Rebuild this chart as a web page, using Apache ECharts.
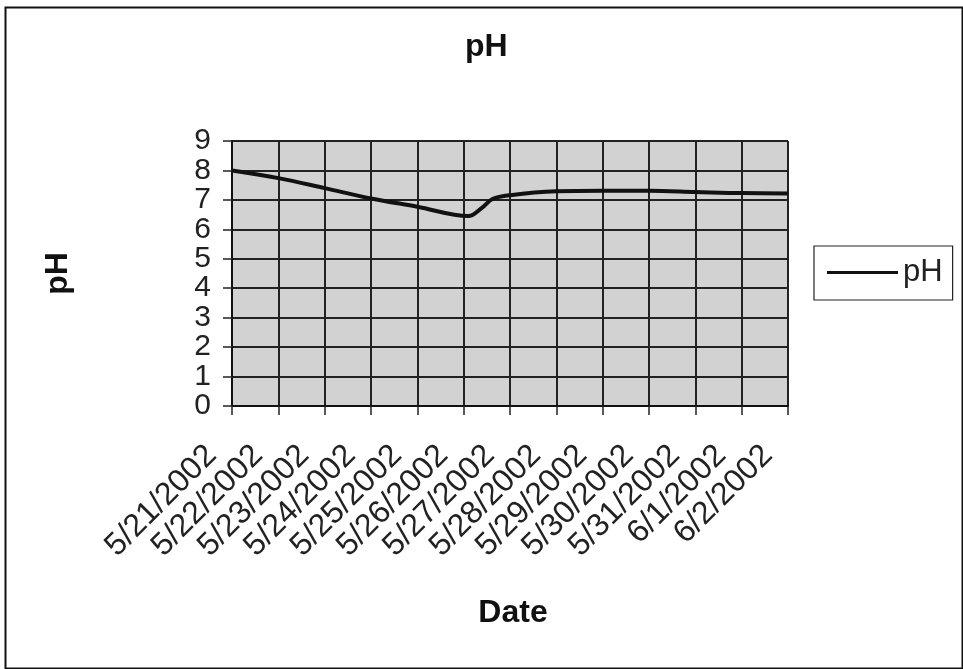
<!DOCTYPE html>
<html>
<head>
<meta charset="utf-8">
<script src="https://cdn.jsdelivr.net/npm/echarts@6/dist/echarts.min.js"></script>
<style>
html,body{margin:0;padding:0;background:#fff;}
#chart{width:963px;height:669px;}
</style>
</head>
<body>
<div id="chart"></div>
<script>
// Tick labels for the x axis (one per day)
var dateLabels = ['5/21/2002','5/22/2002','5/23/2002','5/24/2002','5/25/2002','5/26/2002','5/27/2002','5/28/2002','5/29/2002','5/30/2002','5/31/2002','6/1/2002','6/2/2002'];
// Measurement times, in days after 5/21/2002
var days = [0, 1, 2, 3, 4, 5.1, 5.4, 5.62, 6, 7, 8, 9, 10, 11, 12];
// pH readings
var phValues = [8.0, 7.74, 7.4, 7.05, 6.77, 6.45, 6.74, 7.03, 7.16, 7.29, 7.31, 7.31, 7.27, 7.23, 7.22];
var yTicks = [0,1,2,3,4,5,6,7,8,9];

var seriesData = days.map(function(d, i){ return [d, phValues[i]]; });

var chart = echarts.init(document.getElementById('chart'));
var FONT = 'Liberation Sans, Arial, sans-serif';
function yLabel(parity){
  return {
    margin: 21, fontSize: 30, color: '#222', fontFamily: FONT,
    showMinLabel: true, showMaxLabel: true,
    formatter: function(v){
      return (yTicks.indexOf(v) >= 0 && v % 2 === parity) ? String(v) : '';
    }
  };
}
chart.setOption({
  animation: false,
  backgroundColor: '#fff',
  textStyle: {fontFamily: FONT},
  graphic: [{
    type: 'rect', left: 3, top: 5,
    shape: {width: 957, height: 661},
    style: {fill: 'none', stroke: '#111', lineWidth: 2},
    silent: true
  }],
  title: {
    text: 'pH', left: 460, top: 26,
    textStyle: {fontFamily: FONT, fontSize: 32, fontWeight: 'bold', color: '#111'}
  },
  legend: {
    left: 814, top: 246,
    data: [{name: 'pH', icon: 'rect'}],
    orient: 'vertical',
    itemWidth: 71, itemHeight: 3, itemGap: 0,
    padding: [11, 10, 12, 13],
    borderColor: '#222', borderWidth: 1.2,
    backgroundColor: '#fff',
    textStyle: {fontFamily: FONT, fontSize: 31, color: '#222'}
  },
  grid: {
    left: 232, top: 141, width: 556, height: 265,
    show: true, backgroundColor: '#d2d2d2', borderColor: '#999', borderWidth: 1
  },
  xAxis: {
    type: 'value', min: 0, max: 12, interval: 1,
    name: 'Date', nameLocation: 'middle', nameGap: 191,
    nameTextStyle: {fontFamily: FONT, fontSize: 32, fontWeight: 'bold', color: '#111', padding: [0,0,0,6]},
    axisLine: {show: true, onZero: false, lineStyle: {color: '#111', width: 2}},
    axisTick: {show: true, length: 9, lineStyle: {color: '#222', width: 1.5}},
    splitLine: {show: true, lineStyle: {color: '#222', width: 2}},
    axisLabel: {
      rotate: 45, margin: 24, fontSize: 32, color: '#222', fontFamily: FONT,
      padding: [0, 29, 0, 0], showMinLabel: true, showMaxLabel: true,
      formatter: function(v){ return dateLabels[Math.round(v)] || ''; }
    }
  },
  yAxis: [{
    type: 'value', min: 0, max: 9, interval: 1, position: 'left',
    name: 'pH', nameLocation: 'middle', nameGap: 158,
    nameTextStyle: {fontFamily: FONT, fontSize: 32, fontWeight: 'bold', color: '#111'},
    axisLine: {show: true, lineStyle: {color: '#111', width: 2}},
    axisTick: {show: true, length: 9, lineStyle: {color: '#222', width: 1.5}},
    splitLine: {show: true, lineStyle: {color: '#222', width: 2}},
    axisLabel: yLabel(0)
  }, {
    type: 'value', min: 0, max: 9, interval: 1, position: 'left', offset: 0,
    axisLine: {show: false}, axisTick: {show: false}, splitLine: {show: false},
    axisLabel: yLabel(1)
  }],
  series: [{
    name: 'pH', type: 'line', data: seriesData, yAxisIndex: 0,
    smooth: 0.35, showSymbol: false, symbol: 'none',
    lineStyle: {color: '#111', width: 4},
    itemStyle: {color: '#111'}
  }]
});
</script>
</body>
</html>
